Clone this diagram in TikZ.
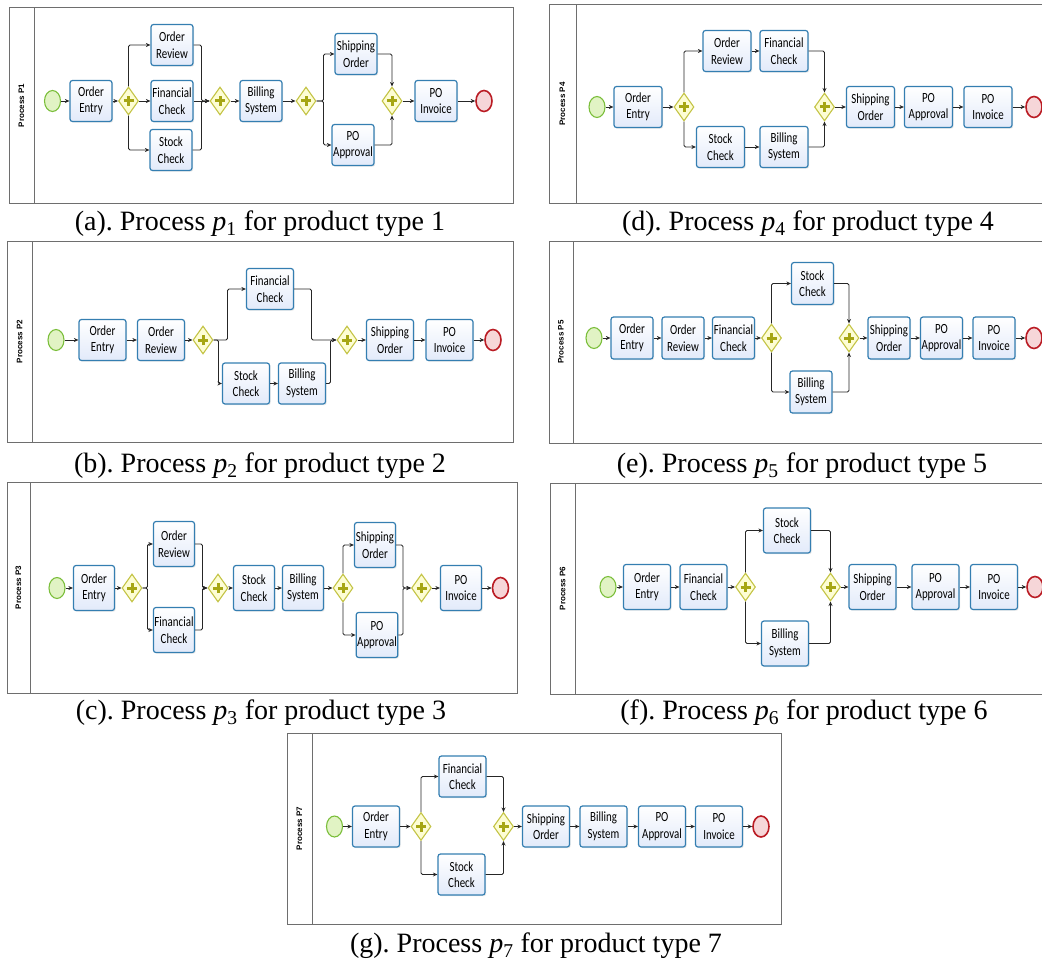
\documentclass[tikz,border=0pt]{standalone}
\usepackage{fontspec}
\setmainfont{Liberation Serif}
\newfontfamily\taskfamily[FakeStretch=0.78]{Carlito}
\newfontfamily\lanefamily{Liberation Sans}
\usetikzlibrary{arrows.meta,shapes.geometric,shadows}
\definecolor{tborder}{RGB}{52,126,177}
\definecolor{tfill}{RGB}{226,234,250}
\definecolor{gborder}{RGB}{196,196,70}
\definecolor{gfill}{RGB}{253,253,212}
\definecolor{gplus}{RGB}{166,166,20}
\definecolor{sborder}{RGB}{122,190,58}
\definecolor{sfill}{RGB}{225,243,196}
\definecolor{eborder}{RGB}{186,28,36}
\definecolor{efill}{RGB}{246,214,216}
\definecolor{fgray}{RGB}{110,110,110}
\newcommand{\taskfont}{\taskfamily\fontsize{14}{16.5}\selectfont}
\newcommand{\lanefont}{\lanefamily\bfseries\fontsize{8}{9}\selectfont}
\newcommand{\capfont}{\fontsize{28}{30}\selectfont}
\frenchspacing

\begin{document}
\begin{tikzpicture}[x=1pt,y=-1pt,
  task/.style={draw=tborder,line width=1.2pt,rounded corners=2.5pt,top color=white,bottom color=tfill,
    minimum width=44pt,minimum height=41pt,inner sep=1pt,align=center,font=\taskfont,
    drop shadow={shadow xshift=1.2pt,shadow yshift=-1.2pt,opacity=0.18}},
  gate/.style={diamond,draw=gborder,fill=gfill,line width=1.1pt,minimum width=20pt,minimum height=28pt,inner sep=0pt,
    path picture={\draw[gplus,line width=3pt]
      ([xshift=-5pt]path picture bounding box.center) -- ([xshift=5pt]path picture bounding box.center)
      ([yshift=-5pt]path picture bounding box.center) -- ([yshift=5pt]path picture bounding box.center);}},
  startev/.style={ellipse,draw=sborder,fill=sfill,line width=1.1pt,minimum width=16pt,minimum height=21pt,inner sep=0pt},
  endev/.style={ellipse,draw=eborder,fill=efill,line width=1.6pt,minimum width=16pt,minimum height=21pt,inner sep=0pt},
  flow/.style={-{Stealth[length=4.5pt,width=4pt]},line width=0.8pt,black!85,rounded corners=1.5pt},
  poolframe/.style={draw=fgray,line width=1pt},
  lanetitle/.style={rotate=90,font=\lanefont},
  captext/.style={font=\capfont}]
\useasboundingbox (0,0) rectangle (1042,963);
\clip (0,0) rectangle (1042,963);

% pools and lane titles
\foreach \p/\xa/\ya/\xb/\yb/\xd in {1/9/8/513/203/34, 2/7/241/513/442/32, 3/7/482/517/693/30,
    4/549/5/1060/203/576, 5/549/241/1060/443/573, 6/550/483/1060/694/575, 7/287/733/781/924/312} {
  \draw[poolframe] (\xa,\ya) rectangle (\xb,\yb) (\xd,\ya) -- (\xd,\yb);
  \node[lanetitle] (lane\p) at ({(\xa+\xd)/2},{(\ya+\yb)/2}) {Process P\p};
}
% captions
\foreach \p/\t/\x/\y in {1/a/260/224, 2/b/260/466, 3/c/261/713, 4/d/808/224, 5/e/802/466, 6/f/804/713, 7/g/536/946}
  \node[captext] (cap\p) at (\x,\y) {(\t). Process \textit{p}\textsubscript{\p} for product type \p};

% process p1
\begin{scope}[task/.append style={minimum width=42pt}]
\node[startev] (aS) at (52.5,101) {};
\node[task] (aOE) at (91,101) {Order\\Entry};
\node[gate] (aG1) at (128.5,101) {};
\node[task] (aOR) at (172,45) {Order\\Review};
\node[task] (aFC) at (172,101) {Financial\\Check};
\node[task] (aSC) at (171,150) {Stock\\Check};
\node[gate] (aG2) at (220,101) {};
\node[task] (aBS) at (261,101) {Billing\\System};
\node[gate] (aG3) at (306,101) {};
\node[task] (aSO) at (356,54) {Shipping\\Order};
\node[task] (aPA) at (353,145) {PO\\Approval};
\node[gate] (aG4) at (392,101) {};
\node[task] (aPI) at (436,101) {PO\\Invoice};
\node[endev] (aE) at (484,101) {};
\draw[flow] (aS) -- (aOE);
\draw[flow] (aOE) -- (aG1);
\draw[flow] (aG1.north) |- (aOR);
\draw[flow] (aG1) -- (aFC);
\draw[flow] (aG1.south) |- (aSC);
\draw[flow] (aOR) -| ([xshift=-8pt]aG2.west) -- (aG2);
\draw[flow] (aFC) -- (aG2);
\draw[flow] (aSC) -| ([xshift=-8pt]aG2.west) -- (aG2);
\draw[flow] (aG2) -- (aBS);
\draw[flow] (aBS) -- (aG3);
\draw[flow] (aG3.east) -- ([xshift=7pt]aG3.east) |- (aSO);
\draw[flow] (aG3.east) -- ([xshift=7pt]aG3.east) |- (aPA);
\draw[flow] (aSO) -| (aG4.north);
\draw[flow] (aPA) -| (aG4.south);
\draw[flow] (aG4) -- (aPI);
\draw[flow] (aPI) -- (aE);
\end{scope}

% process p2
\begin{scope}[task/.append style={minimum width=47pt}]
\node[startev] (bS) at (56,340) {};
\node[task] (bOE) at (102.5,340) {Order\\Entry};
\node[task] (bOR) at (161,340) {Order\\Review};
\node[gate] (bG1) at (203,340) {};
\node[task] (bFC) at (270,289) {Financial\\Check};
\node[task] (bSC) at (246,383.5) {Stock\\Check};
\node[task] (bBS) at (302,383.5) {Billing\\System};
\node[gate] (bG2) at (347,340) {};
\node[task] (bSO) at (390,340) {Shipping\\Order};
\node[task] (bPI) at (449.5,340) {PO\\Invoice};
\node[endev] (bE) at (493,340) {};
\draw[flow] (bS) -- (bOE);
\draw[flow] (bOE) -- (bOR);
\draw[flow] (bOR) -- (bG1);
\draw[flow] (bG1.east) -- ([xshift=14pt]bG1.east) |- (bFC);
\draw[flow] (bG1.east) -- ([xshift=5pt]bG1.east) |- (bSC);
\draw[flow] (bSC) -- (bBS);
\draw[flow] (bFC) -| ([xshift=-25pt]bG2.west) -- (bG2);
\draw[flow] (bBS) -| ([xshift=-6pt]bG2.west) -- (bG2);
\draw[flow] (bG2) -- (bSO);
\draw[flow] (bSO) -- (bPI);
\draw[flow] (bPI) -- (bE);
\end{scope}

% process p3
\begin{scope}[task/.append style={minimum width=41pt,minimum height=45pt}]
\node[startev] (cS) at (57,588) {};
\node[task] (cOE) at (94,588) {Order\\Entry};
\node[gate] (cG1) at (132,588) {};
\node[task] (cOR) at (174,544) {Order\\Review};
\node[task] (cFC) at (174,630) {Financial\\Check};
\node[gate] (cG2) at (218,588) {};
\node[task] (cSC) at (254,588) {Stock\\Check};
\node[task] (cBS) at (303,588) {Billing\\System};
\node[gate] (cG3) at (343,588) {};
\node[task] (cSO) at (375,545) {Shipping\\Order};
\node[task] (cPA) at (377,635) {PO\\Approval};
\node[gate] (cG4) at (421.5,588) {};
\node[task] (cPI) at (461,588) {PO\\Invoice};
\node[endev] (cE) at (500.5,588) {};
\draw[flow] (cS) -- (cOE);
\draw[flow] (cOE) -- (cG1);
\draw[flow] (cG1.east) -- ([xshift=5pt]cG1.east) |- (cOR);
\draw[flow] (cG1.east) -- ([xshift=5pt]cG1.east) |- (cFC);
\draw[flow] (cOR) -| ([xshift=-5pt]cG2.west) -- (cG2);
\draw[flow] (cFC) -| ([xshift=-5pt]cG2.west) -- (cG2);
\draw[flow] (cG2) -- (cSC);
\draw[flow] (cSC) -- (cBS);
\draw[flow] (cBS) -- (cG3);
\draw[flow] (cG3.north) |- (cSO);
\draw[flow] (cG3.south) |- (cPA);
\draw[flow] (cSO) -| ([xshift=-8pt]cG4.west) -- (cG4);
\draw[flow] (cPA) -| ([xshift=-8pt]cG4.west) -- (cG4);
\draw[flow] (cG4) -- (cPI);
\draw[flow] (cPI) -- (cE);
\end{scope}

% process p4
\begin{scope}[task/.append style={minimum width=48pt}]
\node[startev] (dS) at (597,107) {};
\node[task] (dOE) at (638,107) {Order\\Entry};
\node[gate] (dG1) at (684,107) {};
\node[task] (dOR) at (727,51) {Order\\Review};
\node[task] (dFC) at (784,51) {Financial\\Check};
\node[task] (dSC) at (720.5,147) {Stock\\Check};
\node[task] (dBS) at (784,147) {Billing\\System};
\node[gate] (dG2) at (824.5,107) {};
\node[task] (dSO) at (870.5,107) {Shipping\\Order};
\node[task] (dPA) at (928.5,107) {PO\\Approval};
\node[task] (dPI) at (988,107) {PO\\Invoice};
\node[endev] (dE) at (1034,107) {};
\draw[flow] (dS) -- (dOE);
\draw[flow] (dOE) -- (dG1);
\draw[flow] (dG1.north) |- (dOR);
\draw[flow] (dG1.south) |- (dSC);
\draw[flow] (dOR) -- (dFC);
\draw[flow] (dSC) -- (dBS);
\draw[flow] (dFC) -| (dG2.north);
\draw[flow] (dBS) -| (dG2.south);
\draw[flow] (dG2) -- (dSO);
\draw[flow] (dSO) -- (dPA);
\draw[flow] (dPA) -- (dPI);
\draw[flow] (dPI) -- (dE);
\end{scope}

% process p5
\begin{scope}[task/.append style={minimum width=42pt,minimum height=42pt}]
\node[startev] (eS) at (594,338) {};
\node[task] (eOE) at (632,338) {Order\\Entry};
\node[task] (eOR) at (683,338) {Order\\Review};
\node[task] (eFC) at (733.5,338) {Financial\\Check};
\node[gate] (eG1) at (771.5,338) {};
\node[task] (eSC) at (812.5,283.5) {Stock\\Check};
\node[task] (eBS) at (811,392) {Billing\\System};
\node[gate] (eG2) at (849,338) {};
\node[task] (eSO) at (889,338) {Shipping\\Order};
\node[task] (ePA) at (941.5,338) {PO\\Approval};
\node[task] (ePI) at (994,338) {PO\\Invoice};
\node[endev] (eE) at (1034,338) {};
\draw[flow] (eS) -- (eOE);
\draw[flow] (eOE) -- (eOR);
\draw[flow] (eOR) -- (eFC);
\draw[flow] (eFC) -- (eG1);
\draw[flow] (eG1.north) |- (eSC);
\draw[flow] (eG1.south) |- (eBS);
\draw[flow] (eSC) -| (eG2.north);
\draw[flow] (eBS) -| (eG2.south);
\draw[flow] (eG2) -- (eSO);
\draw[flow] (eSO) -- (ePA);
\draw[flow] (ePA) -- (ePI);
\draw[flow] (ePI) -- (eE);
\end{scope}

% process p6
\begin{scope}[task/.append style={minimum width=47pt,minimum height=45pt}]
\node[startev] (fS) at (608,587) {};
\node[task] (fOE) at (647,587) {Order\\Entry};
\node[task] (fFC) at (703.5,587) {Financial\\Check};
\node[gate] (fG1) at (745.5,587) {};
\node[task] (fSC) at (787,530.5) {Stock\\Check};
\node[task] (fBS) at (785,643.5) {Billing\\System};
\node[gate] (fG2) at (830.5,587) {};
\node[task] (fSO) at (872.5,587) {Shipping\\Order};
\node[task] (fPA) at (935.5,587) {PO\\Approval};
\node[task] (fPI) at (994,587) {PO\\Invoice};
\node[endev] (fE) at (1035,587) {};
\draw[flow] (fS) -- (fOE);
\draw[flow] (fOE) -- (fFC);
\draw[flow] (fFC) -- (fG1);
\draw[flow] (fG1.north) |- (fSC);
\draw[flow] (fG1.south) |- (fBS);
\draw[flow] (fSC) -| (fG2.north);
\draw[flow] (fBS) -| (fG2.south);
\draw[flow] (fG2) -- (fSO);
\draw[flow] (fSO) -- (fPA);
\draw[flow] (fPA) -- (fPI);
\draw[flow] (fPI) -- (fE);
\end{scope}

% process p7
\begin{scope}[task/.append style={minimum width=47pt}]
\node[startev] (gS) at (334.5,826.5) {};
\node[task] (gOE) at (376,826.5) {Order\\Entry};
\node[gate] (gG1) at (421,826.5) {};
\node[task] (gFC) at (462.5,776.5) {Financial\\Check};
\node[task] (gSC) at (461.5,874.5) {Stock\\Check};
\node[gate] (gG2) at (503.5,826.5) {};
\node[task] (gSO) at (546,826.5) {Shipping\\Order};
\node[task] (gBS) at (603.5,826.5) {Billing\\System};
\node[task] (gPA) at (662,826.5) {PO\\Approval};
\node[task] (gPI) at (719,826.5) {PO\\Invoice};
\node[endev] (gE) at (761,826.5) {};
\draw[flow] (gS) -- (gOE);
\draw[flow] (gOE) -- (gG1);
\draw[flow] (gG1.north) |- (gFC);
\draw[flow] (gG1.south) |- (gSC);
\draw[flow] (gFC) -| (gG2.north);
\draw[flow] (gSC) -| (gG2.south);
\draw[flow] (gG2) -- (gSO);
\draw[flow] (gSO) -- (gBS);
\draw[flow] (gBS) -- (gPA);
\draw[flow] (gPA) -- (gPI);
\draw[flow] (gPI) -- (gE);
\end{scope}
\end{tikzpicture}
\end{document}
